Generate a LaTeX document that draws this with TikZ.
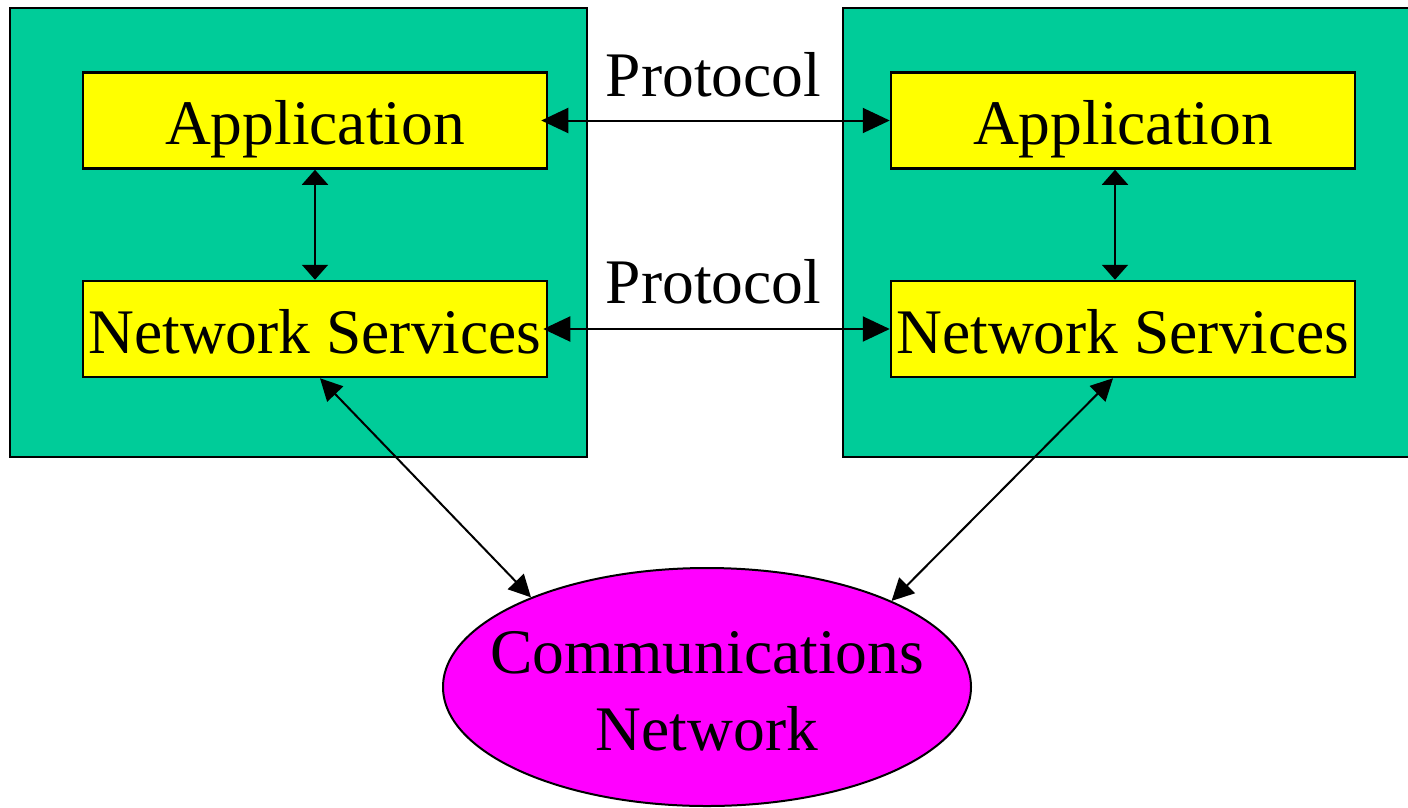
\documentclass[tikz,border=0pt]{standalone}
\usepackage{fontspec}
\setmainfont{Liberation Serif}
\usetikzlibrary{arrows.meta,shapes.geometric}
\definecolor{hostgreen}{RGB}{0,204,153}
\definecolor{layeryellow}{RGB}{255,255,0}
\definecolor{netmagenta}{RGB}{255,0,255}
\newcommand\diagfont{\fontsize{63.5}{77}\selectfont}
\begin{document}
\begin{tikzpicture}[x=1pt,y=-1pt,
  host/.style={draw, line width=2.5pt, fill=hostgreen, inner sep=0pt,
    minimum width=577pt, minimum height=449pt},
  layer/.style={draw, line width=2.5pt, fill=layeryellow, inner sep=0pt,
    minimum width=464pt, minimum height=96pt, text height=60pt, text depth=12pt,
    font=\diagfont},
  label/.style={anchor=base, inner sep=0pt, font=\diagfont},
  cloud/.style={ellipse, draw, line width=2pt, fill=netmagenta, inner sep=0pt,
    minimum width=528pt, minimum height=238pt},
  link/.style={line width=2pt},
  hlink/.style={link, {Triangle[length=27pt,width=25pt]}-{Triangle[length=27pt,width=25pt]}},
  vlink/.style={link, {Triangle[length=15pt,width=26pt]}-{Triangle[length=15pt,width=26pt]}},
  dlink/.style={link, {Triangle[length=22pt,width=22pt]}-{Triangle[length=22pt,width=22pt]}}]
\clip (0,0) rectangle (1408,807);

% two end hosts
\node[host] (lhost) at (298.5,232.5) {};
\node[host] (rhost) at (1131.5,232.5) {};

% protocol layers in each host
\node[layer] (lapp) at (315,120.5) {Application};
\node[layer] (lnet) at (315,329) {Network Services};
\node[layer] (rapp) at (1123,120.5) {Application};
\node[layer] (rnet) at (1123,329) {Network Services};

% peer protocol labels
\node[label] (papp) at (713.5,96) {Protocol};
\node[label] (pnet) at (713.5,303) {Protocol};

% shared network
\node[cloud] (net) at (707,687) {};
\node[label] (netl1) at (707,673) {Communications};
\node[label] (netl2) at (707,750) {Network};

% peer-to-peer links
\draw[hlink, shorten <=-7pt] (lapp.east) -- (rapp.west);
\draw[hlink, shorten <=-5pt] (lnet.east) -- (rnet.west);

% layer interfaces
\draw[vlink] (lapp.south) -- (lnet.north);
\draw[vlink] ([xshift=-8pt]rapp.south) -- ([xshift=-8pt]rnet.north);

% attachments to the network
\draw[dlink] ([xshift=5pt]lnet.south) -- (net.153);
\draw[dlink] ([xshift=-10pt]rnet.south) -- (net.25);
\end{tikzpicture}
\end{document}
